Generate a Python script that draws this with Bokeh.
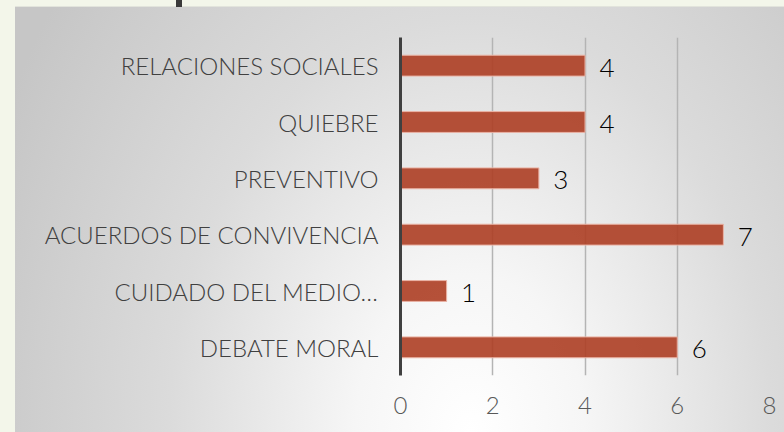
from bokeh.plotting import figure
from bokeh.models import FactorRange, Range1d, FixedTicker, ColumnDataSource
from bokeh.embed import file_html
from bokeh.resources import INLINE
from bokeh.core.properties import value

# ---- data ----
categories = ["RELACIONES SOCIALES", "QUIEBRE", "PREVENTIVO",
              "ACUERDOS DE CONVIVENCIA", "CUIDADO DEL MEDIO…", "DEBATE MORAL"]
counts = [4, 4, 3, 7, 1, 6]
x_ticks = [0, 2, 4, 6, 8]

src = ColumnDataSource(dict(cat=categories, val=counts, lbl=[str(c) for c in counts]))

FONT = "Lato Light, Lato"

p = figure(width=784, height=432, output_backend="svg", toolbar_location=None,
           y_range=FactorRange(factors=categories[::-1]), x_range=Range1d(0, 8),
           min_border_left=400, min_border_right=15, min_border_top=37,
           min_border_bottom=57)

p.outline_line_color = None
p.background_fill_alpha = 0
p.border_fill_alpha = 0
p.styles = {
    "position": "absolute", "left": "0px", "top": "0px",
    "background": (
        "linear-gradient(#3a3a3a,#3a3a3a) 176px 0px / 6px 7px no-repeat, "
        "linear-gradient(#e2e4dc,#e2e4dc) 15px 6px / 100% 1px no-repeat, "
        "linear-gradient(#f3f6ea,#f3f6ea) 0px 0px / 100% 6px no-repeat, "
        "linear-gradient(#f3f6ea,#f3f6ea) 0px 0px / 15px 100% no-repeat, "
        "radial-gradient(ellipse 520px 715px at 470px 432px, #ffffff 0%, #f6f6f6 22%, "
        "#dbdbdb 58%, #c6c6c6 100%)"
    ),
}

p.hbar(y="cat", left=0, right="val", height=0.37, source=src,
       fill_color="#ad3e24", fill_alpha=0.9, line_color="#eab3a5", line_width=1)

p.text(x="val", y="cat", text="lbl", source=src, x_offset=22, y_offset=2,
       text_align="center", text_baseline="middle", text_font=value(FONT),
       text_font_size="26px", text_color="#000000")

# y axis
p.yaxis.axis_line_color = "#404040"
p.yaxis.axis_line_width = 3
p.yaxis.major_tick_line_color = None
p.yaxis.minor_tick_line_color = None
p.yaxis.major_label_text_font = FONT
p.yaxis.major_label_text_font_size = "24px"
p.yaxis.major_label_text_color = "#404040"
p.yaxis.major_label_standoff = 16

# x axis
p.xaxis.ticker = FixedTicker(ticks=x_ticks)
p.xaxis.axis_line_color = None
p.xaxis.major_tick_line_color = None
p.xaxis.minor_tick_line_color = None
p.xaxis.major_label_text_font = FONT
p.xaxis.major_label_text_font_size = "24px"
p.xaxis.major_label_text_color = "#595959"
p.xaxis.major_label_standoff = 15

p.xgrid.ticker = FixedTicker(ticks=x_ticks)
p.xgrid.grid_line_color = "#b4b4b4"
p.xgrid.grid_line_width = 1.5
p.ygrid.grid_line_color = None

open("out.html", "w").write(file_html(p, INLINE))
